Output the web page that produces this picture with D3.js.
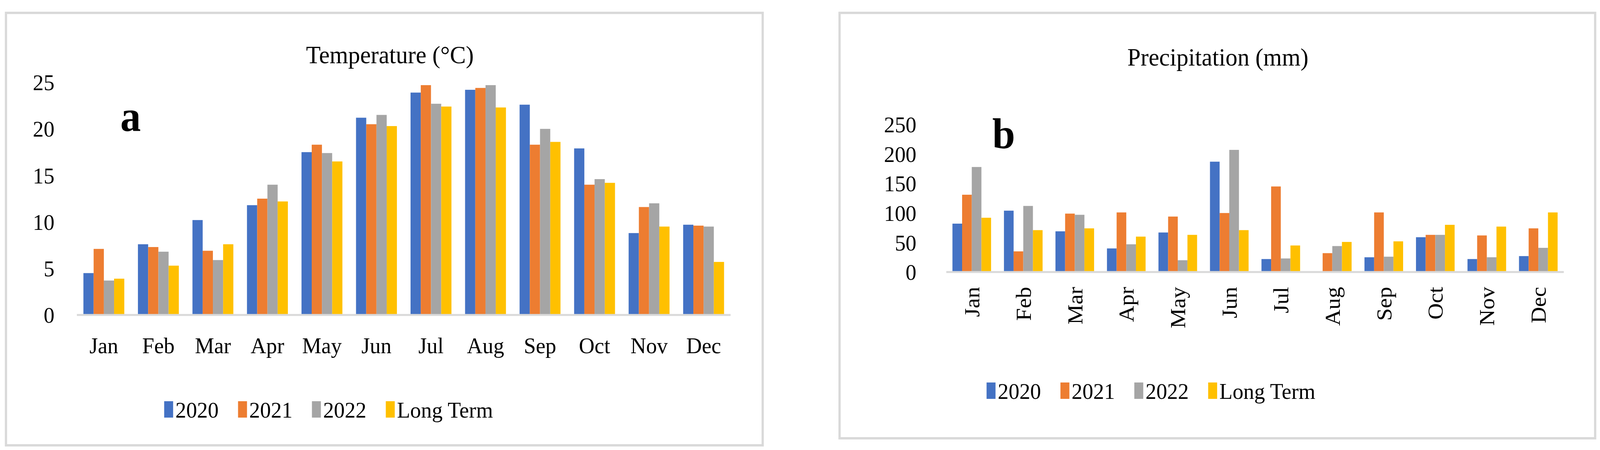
<!DOCTYPE html>
<html>
<head>
<meta charset="utf-8">
<script src="https://cdn.jsdelivr.net/npm/d3@7"></script>
<style>
  html, body { margin: 0; padding: 0; background: #fff; overflow: hidden; }
  svg { display: block; width: 100vw; height: 100vh; }
  text { font-family: "Liberation Serif", "DejaVu Serif", serif; fill: #000; }
</style>
</head>
<body>
<svg id="chart" viewBox="0 0 4288 1153" preserveAspectRatio="none"></svg>
<script>
// month categories and series names
const months = ["Jan", "Feb", "Mar", "Apr", "May", "Jun", "Jul", "Aug", "Sep", "Oct", "Nov", "Dec"];
const seriesNames = ["2020", "2021", "2022", "Long Term"];
const colors = ["#4472C4", "#ED7D31", "#A5A5A5", "#FFC000"];

// temperature (°C)
const temp2020 = [4.5, 7.6, 10.2, 11.8, 17.5, 21.2, 23.9, 24.2, 22.6, 17.9, 8.8, 9.7];
const temp2021 = [7.1, 7.3, 6.9, 12.5, 18.3, 20.5, 24.7, 24.4, 18.3, 14.0, 11.6, 9.6];
const temp2022 = [3.7, 6.8, 5.9, 14.0, 17.4, 21.5, 22.7, 24.7, 20.0, 14.6, 12.0, 9.5];
const tempLong = [3.9, 5.3, 7.6, 12.2, 16.5, 20.3, 22.4, 22.3, 18.6, 14.2, 9.5, 5.7];
const tempTicks = [0, 5, 10, 15, 20, 25];

// precipitation (mm)
const prec2020 = [82, 104, 69, 40, 67, 187, 22, 0, 25, 59, 22, 27];
const prec2021 = [131, 35, 99, 101, 94, 100, 145, 32, 101, 63, 62, 74];
const prec2022 = [178, 112, 97, 47, 20, 207, 23, 44, 26, 63, 25, 41];
const precLong = [92, 71, 74, 60, 63, 71, 45, 51, 52, 80, 77, 101];
const precTicks = [0, 50, 100, 150, 200, 250];

const svg = d3.select("#chart");

// draw one panel
function drawPanel(p) {
  const g = svg.append("g");

  // panel frame
  g.append("rect")
    .attr("x", p.box[0]).attr("y", p.box[1])
    .attr("width", p.box[2]).attr("height", p.box[3])
    .attr("fill", "#fff").attr("stroke", "#d9d9d9").attr("stroke-width", 6);

  const x = d3.scaleBand().domain(months).range([p.x0, p.x1]).paddingInner(0.25).paddingOuter(0.12);
  const x1 = d3.scaleBand().domain(seriesNames).range([0, x.bandwidth()]);
  const y = d3.scaleLinear().domain([0, p.max]).range([p.y0, p.y1]);

  // bars
  p.series.forEach((vals, si) => {
    g.append("g").selectAll("rect")
      .data(vals)
      .join("rect")
      .attr("x", (d, i) => x(months[i]) + x1(seriesNames[si]))
      .attr("y", d => y(d))
      .attr("width", x1.bandwidth())
      .attr("height", d => y(0) - y(d))
      .attr("fill", colors[si]);
  });

  // baseline
  g.append("line")
    .attr("x1", p.x0).attr("x2", p.x1)
    .attr("y1", y(0)).attr("y2", y(0))
    .attr("stroke", "#d9d9d9").attr("stroke-width", 5);

  // y tick labels
  g.append("g").selectAll("text")
    .data(p.ticks)
    .join("text")
    .attr("x", p.tickX)
    .attr("y", d => y(d))
    .attr("dy", "0.35em")
    .attr("text-anchor", "end")
    .attr("font-size", 58)
    .text(d => d);

  // month labels
  const ml = g.append("g").selectAll("text")
    .data(months)
    .join("text")
    .attr("font-size", 58)
    .text(d => d);
  if (p.rotate) {
    ml.attr("text-anchor", "end")
      .attr("transform", d => `translate(${x(d) + x.bandwidth() / 2 + 20},${p.labelY}) rotate(-90)`);
  } else {
    ml.attr("text-anchor", "middle")
      .attr("x", d => x(d) + x.bandwidth() / 2)
      .attr("y", p.labelY);
  }

  // title and panel letter
  g.append("text").attr("x", p.titleX).attr("y", p.titleY)
    .attr("text-anchor", "middle").attr("font-size", 64).text(p.title);
  g.append("text").attr("x", p.letter[0]).attr("y", p.letter[1])
    .attr("text-anchor", "middle").attr("font-size", 110).attr("font-weight", "bold").text(p.letterText);

  // legend
  let lx = p.legX;
  seriesNames.forEach((s, i) => {
    g.append("rect").attr("x", lx).attr("y", p.legY - 42).attr("width", 24).attr("height", 42).attr("fill", colors[i]);
    const t = g.append("text").attr("x", lx + 30).attr("y", p.legY).attr("font-size", 58).text(s);
    lx += 30 + t.node().getComputedTextLength() + 52;
  });
}

drawPanel({
  box: [16, 33, 2028, 1108],
  x0: 206, x1: 1958, y0: 807, y1: 211, max: 25,
  series: [temp2020, temp2021, temp2022, tempLong],
  ticks: tempTicks, tickX: 146, labelY: 905,
  rotate: false,
  title: "Temperature (°C)", titleX: 1045, titleY: 162,
  letter: [350, 335], letterText: "a",
  legX: 440, legY: 1070
});

drawPanel({
  box: [2250, 33, 2025, 1090],
  x0: 2536, x1: 4191, y0: 697, y1: 319, max: 250,
  series: [prec2020, prec2021, prec2022, precLong],
  ticks: precTicks, tickX: 2456, labelY: 735,
  rotate: true,
  title: "Precipitation (mm)", titleX: 3264, titleY: 168,
  letter: [2690, 380], letterText: "b",
  legX: 2644, legY: 1022
});
</script>
</body>
</html>
